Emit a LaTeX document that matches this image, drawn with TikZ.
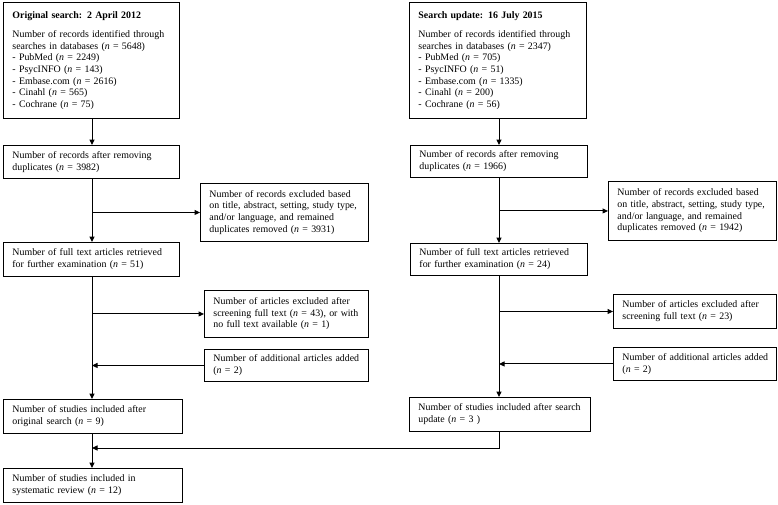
\documentclass[tikz,border=0pt]{standalone}
\usepackage{fontspec}
\setmainfont{Liberation Serif}
\usetikzlibrary{arrows.meta}
\newcommand\nn{\textit{n}}
\tikzset{
  box/.style={draw, line width=0.9pt, anchor=north west, align=left,
    inner xsep=9pt, inner ysep=0pt,
    font=\fontsize{9.9}{11.6}\selectfont},
  arr/.style={line width=1pt, -{Triangle[length=5.5pt,width=5pt]}}
}
\newcommand\bx[6]{\node[box, minimum width=#3pt, minimum height=#4pt, text width=#3pt-18pt] (#5) at (#1,#2) {\begin{tabular}{@{}l@{}}#6\end{tabular}};}
\begin{document}
\begin{tikzpicture}[x=1pt,y=-1pt]
\useasboundingbox (0,0) rectangle (778,504);
% left column
\bx{3}{2}{176}{116}{L1}{\textbf{Original search: 2 April 2012}\\[8pt]
Number of records identified through\\ searches in databases (\nn{} = 5648)\\
- PubMed (\nn{} = 2249)\\ - PsycINFO (\nn{} = 143)\\ - Embase.com (\nn{} = 2616)\\
- Cinahl (\nn{} = 565)\\ - Cochrane (\nn{} = 75)}
\bx{3}{145}{176}{33}{L2}{Number of records after removing\\ duplicates (\nn{} = 3982)}
\bx{200}{183}{168}{58}{Lx1}{Number of records excluded based\\ on title, abstract, setting, study type,\\ and/or language, and remained\\ duplicates removed (\nn{} = 3931)}
\bx{3}{242}{176}{34}{L3}{Number of full text articles retrieved\\ for further examination (\nn{} = 51)}
\bx{204}{290}{164}{47}{Lx2}{Number of articles excluded after\\ screening full text (\nn{} = 43), or with\\ no full text available (\nn{} = 1)}
\bx{204}{349}{164}{32}{Lx3}{Number of additional articles added\\ (\nn{} = 2)}
\bx{3}{399}{179}{34}{L4}{Number of studies included after\\ original search (\nn{} = 9)}
\bx{3}{468}{179}{34}{L5}{Number of studies included in\\ systematic review (\nn{} = 12)}
% right column
\bx{409}{2}{177}{116}{R1}{\textbf{Search update: 16 July 2015}\\[8pt]
Number of records identified through\\ searches in databases (\nn{} = 2347)\\
- PubMed (\nn{} = 705)\\ - PsycINFO (\nn{} = 51)\\ - Embase.com (\nn{} = 1335)\\
- Cinahl (\nn{}  = 200)\\ - Cochrane (\nn{} = 56)}
\bx{410}{145}{177}{32}{R2}{Number of records after removing\\ duplicates (\nn{} = 1966)}
\bx{608}{181}{168}{59}{Rx1}{Number of records excluded based\\ on title, abstract, setting, study type,\\ and/or language, and remained\\ duplicates removed (\nn{} = 1942)}
\bx{410}{243}{177}{32}{R3}{Number of full text articles retrieved\\ for further examination (\nn{} = 24)}
\bx{613}{294}{163}{34}{Rx2}{Number of articles excluded after\\ screening full text (\nn{} = 23)}
\bx{613}{347}{163}{33}{Rx3}{Number of additional articles added\\ (\nn{} = 2)}
\bx{409}{397}{181}{34}{R4}{Number of studies included after search\\ update (\nn{} = 3 )}
% coordinates for branch points
\coordinate (lx) at (92,0);
\coordinate (rx) at (499,0);
\coordinate (m) at (92,448);
% left connectors
\draw[arr] (lx |- L1.south) -- (lx |- L2.north);
\draw[arr] (lx |- L2.south) -- (lx |- L3.north);
\draw[arr] (lx |- Lx1.west) -- (Lx1.west);
\draw[arr] (lx |- L3.south) -- (lx |- L4.north);
\draw[arr] (lx |- Lx2.west) -- (Lx2.west);
\draw[arr] (Lx3.west) -- (lx |- Lx3.west);
\draw[arr] (lx |- L4.south) -- (lx |- L5.north);
% right connectors
\draw[arr] (rx |- R1.south) -- (rx |- R2.north);
\draw[arr] (rx |- R2.south) -- (rx |- R3.north);
\draw[arr] (rx |- Rx1.west) -- (Rx1.west);
\draw[arr] (rx |- R3.south) -- (rx |- R4.north);
\draw[arr] (rx |- Rx2.west) -- (Rx2.west);
\draw[arr] (Rx3.west) -- (rx |- Rx3.west);
% merge
\draw[arr] (rx |- R4.south) |- (m);
\end{tikzpicture}
\end{document}
